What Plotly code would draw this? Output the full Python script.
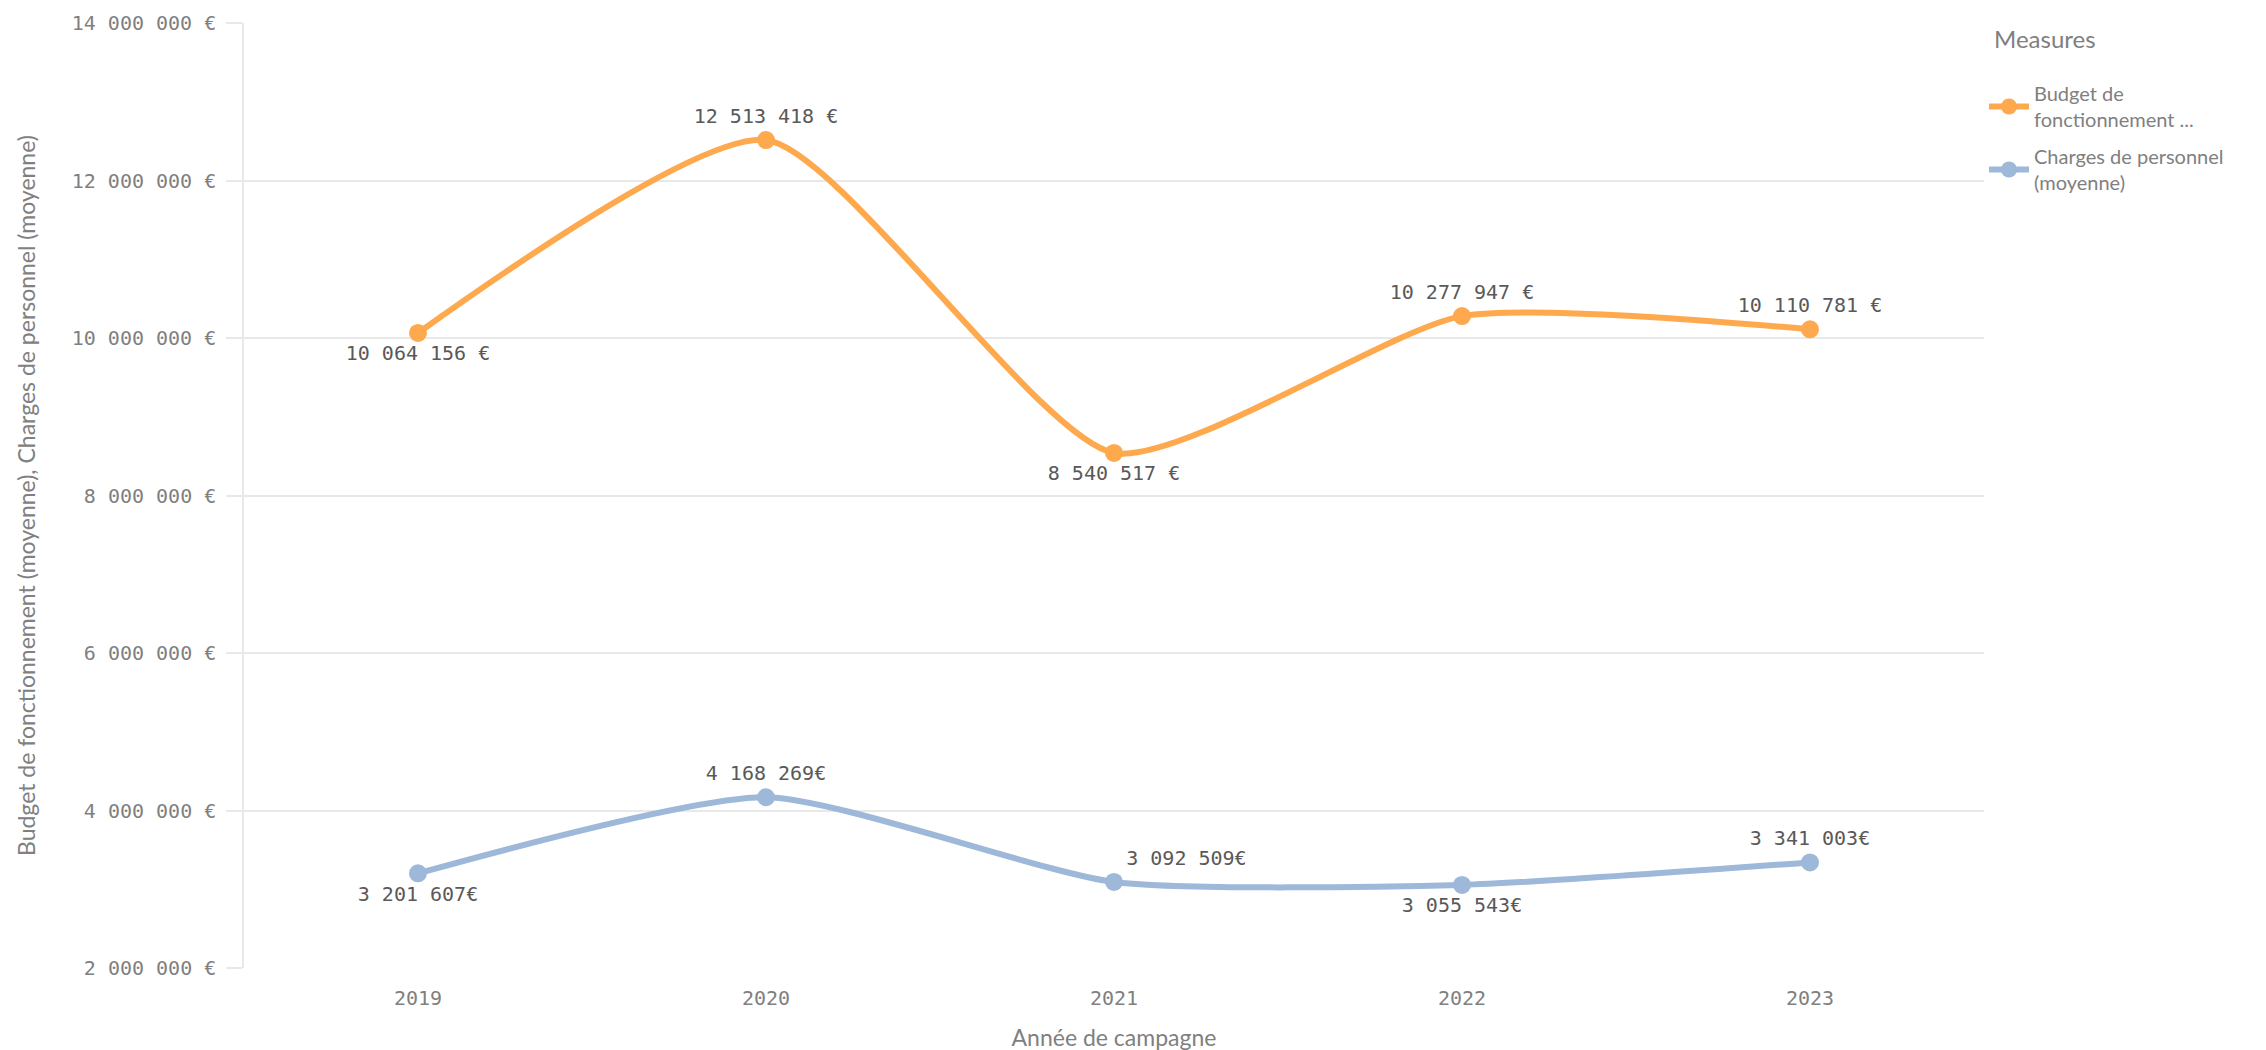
import plotly.graph_objects as go

years = ["2019", "2020", "2021", "2022", "2023"]
budget = [10064156, 12513418, 8540517, 10277947, 10110781]
charges = [3201607, 4168269, 3092509, 3055543, 3341003]
budget_labels = ["10 064 156 €", "12 513 418 €", "8 540 517 €", "10 277 947 €", "10 110 781 €"]
charges_labels = ["3 201 607€", "4 168 269€", "3 092 509€", "3 055 543€", "3 341 003€"]
budget_pos = ["bottom center", "top center", "bottom center", "top center", "top center"]
charges_pos = ["bottom center", "top center", "top right", "bottom center", "top center"]
ytick_vals = [2000000, 4000000, 6000000, 8000000, 10000000, 12000000, 14000000]
ytick_text = ["2 000 000 €", "4 000 000 €", "6 000 000 €", "8 000 000 €",
              "10 000 000 €", "12 000 000 €", "14 000 000 €"]

ORANGE = "#FFA94F"
BLUE = "#9DB8D8"
GRID = "#e8e8e8"
NUMFONT = "DejaVu Sans Mono, monospace"
SANS = "Lato, Noto Sans, sans-serif"
GREY = "#808080"

fig = go.Figure()
fig.add_trace(go.Scatter(
    x=years, y=budget, mode="lines+markers+text",
    name="Budget de<br>fonctionnement ...", legendgroup="a",
    line=dict(color=ORANGE, width=6, shape="spline", smoothing=0.6),
    marker=dict(color=ORANGE, size=18),
    text=budget_labels, textposition=budget_pos,
    textfont=dict(family=NUMFONT, size=20, color="#595959"),
    cliponaxis=False,
))
fig.add_trace(go.Scatter(
    x=years, y=charges, mode="lines+markers+text",
    name="Charges de personnel<br>(moyenne)", legendgroup="b",
    line=dict(color=BLUE, width=6, shape="spline", smoothing=0.6),
    marker=dict(color=BLUE, size=18),
    text=charges_labels, textposition=charges_pos,
    textfont=dict(family=NUMFONT, size=20, color="#595959"),
    cliponaxis=False,
))

fig.add_annotation(
    text="Measures", xref="paper", yref="paper",
    x=1.0046, y=0.984, xanchor="left", yanchor="middle",
    showarrow=False, font=dict(family=SANS, size=24, color=GREY),
)

fig.update_layout(
    width=2266, height=1050,
    margin=dict(l=236, r=290, t=15, b=90),
    paper_bgcolor="white", plot_bgcolor="white",
    font=dict(family=SANS, size=20, color=GREY),
    showlegend=True,
    legend=dict(
        x=1.0, xanchor="left", y=0.946, yanchor="top",
        font=dict(family=SANS, size=20, color=GREY),
        tracegroupgap=8, itemwidth=40,
    ),
    xaxis=dict(
        type="category", range=[-0.5, 4.5],
        showgrid=False, zeroline=False, showline=False,
        tickfont=dict(family=NUMFONT, size=20, color=GREY),
        ticklabelstandoff=16,
        title=dict(text="Année de campagne", font=dict(family=SANS, size=23, color=GREY), standoff=20),
        automargin=False,
    ),
    yaxis=dict(
        range=[2000000, 14000100],
        tickvals=ytick_vals, ticktext=ytick_text,
        showgrid=True, gridcolor=GRID, gridwidth=1.5,
        ticks="outside", ticklen=16, tickcolor=GRID, tickwidth=1.5,
        zeroline=False, showline=True, linecolor=GRID, linewidth=1.5,
        tickfont=dict(family=NUMFONT, size=20, color=GREY),
        ticklabelstandoff=6, ticklabeloverflow="allow",
        title=dict(text="Budget de fonctionnement (moyenne), Charges de personnel (moyenne)",
                   font=dict(family=SANS, size=23, color=GREY), standoff=30),
        automargin=False,
    ),
)

fig.write_html("out.html")
